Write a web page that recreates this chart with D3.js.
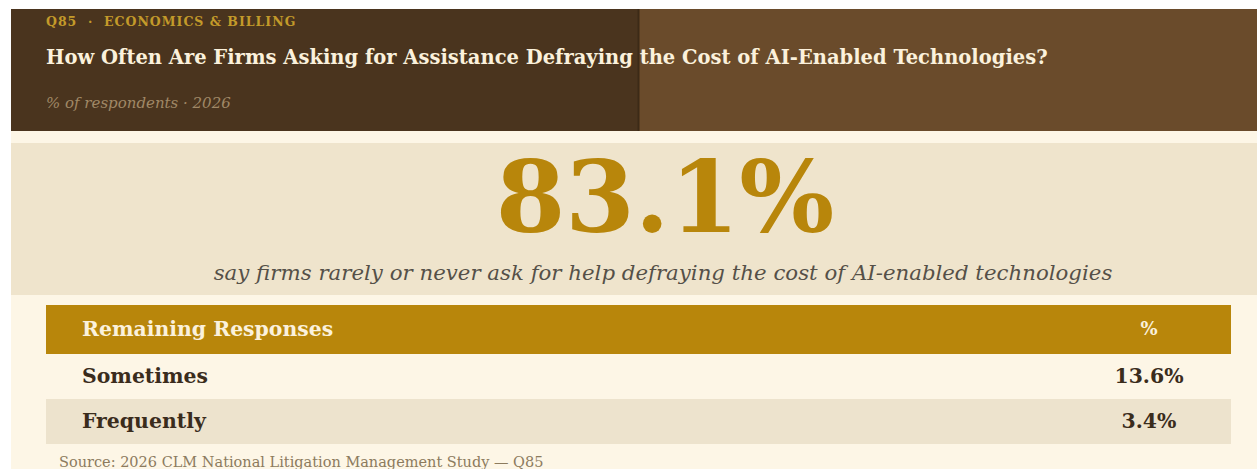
<!DOCTYPE html>
<html>
<head>
<meta charset="utf-8">
<script src="https://cdn.jsdelivr.net/npm/d3@7"></script>
<style>
  html, body { margin: 0; padding: 0; background: #ffffff; }
  svg { display: block; font-family: "DejaVu Serif", serif; }
</style>
</head>
<body>
<script>
// data
const eyebrow = "Q85 \u00b7 ECONOMICS & BILLING";
const title = "How Often Are Firms Asking for Assistance Defraying the Cost of AI-Enabled Technologies?";
const subtitle = "% of respondents \u00b7 2026";
const headline = 83.1;
const headlineText = "say firms rarely or never ask for help defraying the cost of AI-enabled technologies";
const columns = ["Remaining Responses", "%"];
const categories = ["Sometimes", "Frequently"];
const values = [13.6, 3.4];
const source = "Source: 2026 CLM National Litigation Management Study \u2014 Q85";

const width = 1257;
const height = 469;

const svg = d3.select("body").append("svg")
  .attr("width", width)
  .attr("height", height);

// page background
svg.append("rect")
  .attr("x", 11).attr("y", 9)
  .attr("width", width - 11).attr("height", height - 9)
  .attr("fill", "#fdf6e6");

// header
svg.append("rect")
  .attr("x", 11).attr("y", 9)
  .attr("width", width - 11).attr("height", 122)
  .attr("fill", "#6a4b2b");
svg.append("rect")
  .attr("x", 11).attr("y", 9)
  .attr("width", 627).attr("height", 122)
  .attr("fill", "#4a341e");
svg.append("line")
  .attr("x1", 638.5).attr("x2", 638.5)
  .attr("y1", 9).attr("y2", 131)
  .attr("stroke", "#3c2a17").attr("stroke-width", 2);

svg.append("text")
  .attr("x", 46).attr("y", 26)
  .attr("font-size", 12.5).attr("font-weight", "bold")
  .attr("letter-spacing", 1)
  .attr("fill", "#c39a2a")
  .text(eyebrow.replace(" \u00b7 ", "  \u00b7  "))
  .attr("xml:space", "preserve")
  .style("white-space", "pre");

svg.append("text")
  .attr("x", 46).attr("y", 64)
  .attr("font-size", 19.5).attr("font-weight", "bold")
  .attr("fill", "#fbf1dc")
  .text(title);

svg.append("text")
  .attr("x", 46).attr("y", 108)
  .attr("font-size", 15).attr("font-style", "italic")
  .attr("fill", "#a08866")
  .text(subtitle);

// hero panel
svg.append("rect")
  .attr("x", 11).attr("y", 143)
  .attr("width", width - 11).attr("height", 152)
  .attr("fill", "#efe4cc");

svg.append("text")
  .attr("x", 665).attr("y", 232)
  .attr("text-anchor", "middle")
  .attr("font-size", 100).attr("font-weight", "bold")
  .attr("fill", "#b8860b")
  .text(d3.format(".1f")(headline) + "%");

svg.append("text")
  .attr("x", 663).attr("y", 280)
  .attr("text-anchor", "middle")
  .attr("font-size", 21.3).attr("font-style", "italic")
  .attr("fill", "#555048")
  .text(headlineText);

// table
const tableX = 46, tableW = 1185;
const headerY = 305, headerH = 49;

svg.append("rect")
  .attr("x", tableX).attr("y", headerY)
  .attr("width", tableW).attr("height", headerH)
  .attr("fill", "#b8860b");

svg.append("text")
  .attr("x", 82).attr("y", headerY + 31)
  .attr("font-size", 20.4).attr("font-weight", "bold")
  .attr("fill", "#fbf1dc")
  .text(columns[0]);

svg.append("text")
  .attr("x", 1149).attr("y", headerY + 30)
  .attr("text-anchor", "middle")
  .attr("font-size", 18).attr("font-weight", "bold")
  .attr("fill", "#fbf1dc")
  .text(columns[1]);

const y = d3.scaleBand()
  .domain(categories)
  .range([headerY + headerH, headerY + headerH + 90])
  .padding(0);

const rows = svg.selectAll("g.row")
  .data(categories)
  .enter()
  .append("g")
  .attr("class", "row")
  .attr("transform", d => "translate(0," + y(d) + ")");

rows.append("rect")
  .attr("x", tableX)
  .attr("width", tableW)
  .attr("height", y.bandwidth())
  .attr("fill", (d, i) => i % 2 ? "#ede3cd" : "#fdf6e6");

rows.append("text")
  .attr("x", 82)
  .attr("y", y.bandwidth() / 2 + 6)
  .attr("font-size", 20.4).attr("font-weight", "bold")
  .attr("fill", "#3a2c1c")
  .text(d => d);

rows.append("text")
  .attr("x", 1149)
  .attr("y", y.bandwidth() / 2 + 6)
  .attr("text-anchor", "middle")
  .attr("font-size", 20.4).attr("font-weight", "bold")
  .attr("fill", "#3a2c1c")
  .text((d, i) => d3.format(".1f")(values[i]) + "%");

// source
svg.append("text")
  .attr("x", 59).attr("y", 467)
  .attr("font-size", 14.5)
  .attr("fill", "#8c7b5e")
  .text(source);
</script>
</body>
</html>
